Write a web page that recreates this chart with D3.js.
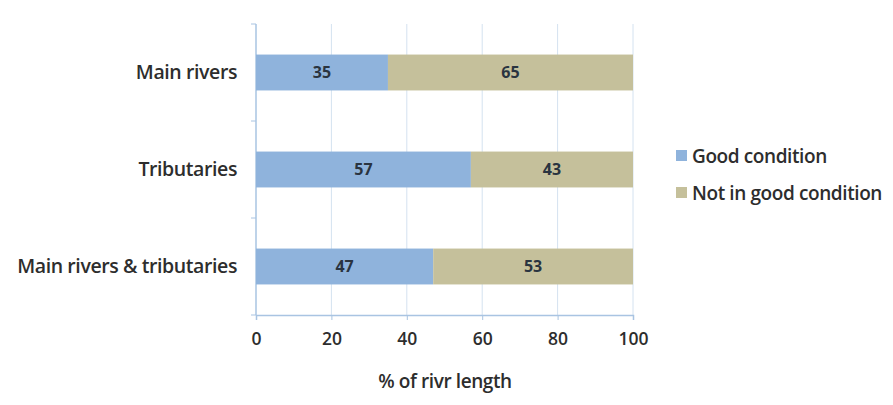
<!DOCTYPE html>
<html><head><meta charset="utf-8">
<script src="https://cdn.jsdelivr.net/npm/d3@7"></script>
<style>body{margin:0;background:#fff;} text{font-family:"Open Sans",sans-serif;}</style>
</head><body><svg id="c" width="893" height="405"></svg>
<script>
const categories = ["Main rivers", "Tributaries", "Main rivers & tributaries"];
const good = [35, 57, 47];
const notGood = [65, 43, 53];
const seriesNames = ["Good condition", "Not in good condition"];
const colors = ["#8fb3dc", "#c5c09b"];
const xTicks = [0, 20, 40, 60, 80, 100];
const xTitle = "% of rivr length";

const svg = d3.select("#c");
const m = {l:256, r:633, t:24, b:315};
const x = d3.scaleLinear().domain([0,100]).range([m.l, m.r]);
const y = d3.scaleBand().domain(categories).range([m.t, m.b]).paddingInner(0.63).paddingOuter(0.315);
const fw = 600, tc = "#2d2d2d";

svg.append("g").selectAll("line").data(xTicks.slice(1)).join("line")
  .attr("x1", d=>x(d)).attr("x2", d=>x(d)).attr("y1", m.t).attr("y2", m.b)
  .attr("stroke", "#d4e2f0").attr("stroke-width", 1);

const xa = svg.append("g").attr("transform", `translate(0,${m.b})`)
  .call(d3.axisBottom(x).tickValues(xTicks).tickSize(5).tickPadding(13));
xa.select(".domain").attr("stroke", "#a9c4e2").attr("stroke-width", 1.5);
xa.selectAll(".tick line").attr("stroke", "#a9c4e2");
xa.selectAll("text").attr("font-size", 17.5).attr("font-weight", fw).attr("fill", tc).attr("font-family", "'Open Sans', sans-serif");

svg.append("line").attr("x1", m.l).attr("x2", m.l).attr("y1", m.t).attr("y2", m.b)
  .attr("stroke", "#a9c4e2").attr("stroke-width", 1.5);
const step = (m.b - m.t) / categories.length;
svg.append("g").selectAll("line").data(d3.range(categories.length+1)).join("line")
  .attr("x1", m.l-5).attr("x2", m.l).attr("y1", d=>m.t + d*step).attr("y2", d=>m.t + d*step)
  .attr("stroke", "#a9c4e2");

svg.append("g").selectAll("text").data(categories).join("text")
  .attr("x", m.l-19).attr("y", d=>y(d)+y.bandwidth()/2).attr("dy", "0.35em")
  .attr("text-anchor", "end").attr("font-size", 19.5).attr("font-weight", fw).attr("fill", tc)
  .attr("letter-spacing", -0.4).text(d=>d);

const stackData = categories.map((c,i)=>({cat:c, v:[good[i], notGood[i]]}));
stackData.forEach(d=>{
  let acc = 0;
  d.v.forEach((v,j)=>{
    svg.append("rect").attr("x", x(acc)).attr("width", x(acc+v)-x(acc))
      .attr("y", y(d.cat)).attr("height", y.bandwidth()).attr("fill", colors[j]);
    svg.append("text").attr("x", x(acc+v/2)).attr("y", y(d.cat)+y.bandwidth()/2).attr("dy","0.35em")
      .attr("text-anchor","middle").attr("font-size",16).attr("font-weight","bold").attr("fill","#2a3440").text(v);
    acc += v;
  });
});

svg.append("text").attr("x", 445).attr("y", 388).attr("text-anchor","middle")
  .attr("font-size", 19).attr("font-weight", fw).attr("fill", tc).attr("letter-spacing", -0.4).text(xTitle);

const lg = svg.append("g");
seriesNames.forEach((n,i)=>{
  const ly = 156 + i*37;
  lg.append("rect").attr("x", 676).attr("y", ly-6).attr("width", 11).attr("height", 11).attr("fill", colors[i]);
  lg.append("text").attr("x", 692).attr("y", ly).attr("dy","0.35em").attr("font-size",19).attr("font-weight", fw)
    .attr("fill",tc).attr("letter-spacing", -0.4).text(n);
});
</script></body></html>
